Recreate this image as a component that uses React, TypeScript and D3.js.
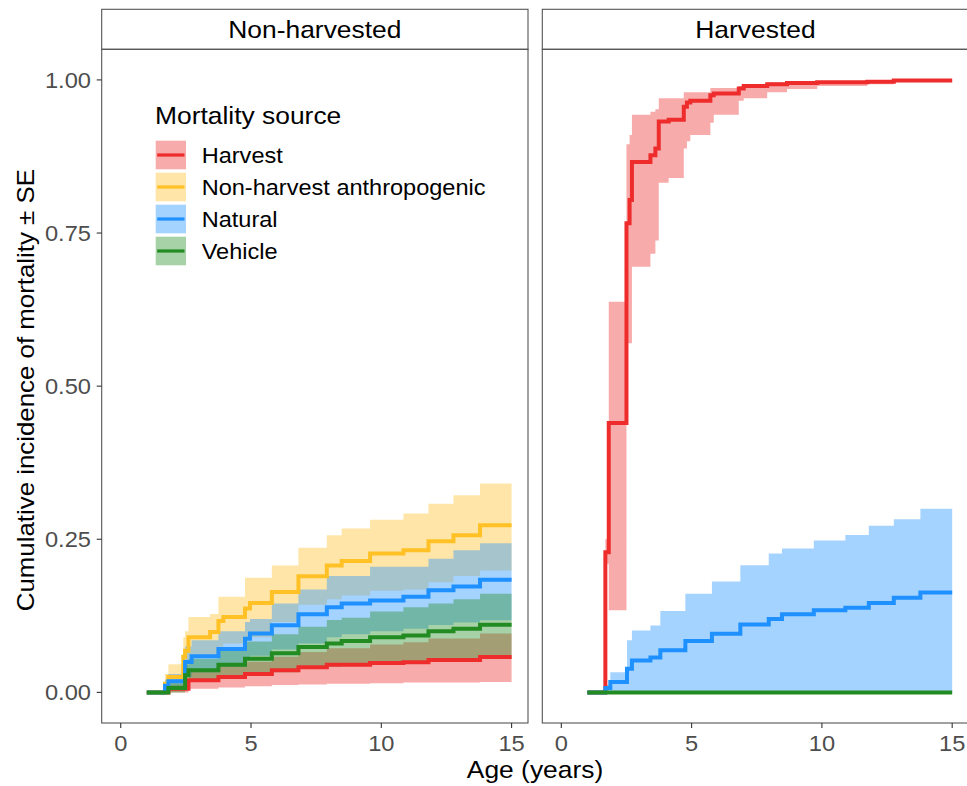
import React from 'react';
import * as d3 from 'd3';

const W = 967, H = 786;
const FONT = "'Liberation Sans', Arial, Helvetica, sans-serif";
const SX = 1.1; // reference text is a bit wider than Arial

// ---- data (age in years, cumulative incidence, lower / upper of ± SE band) ----
const START_AGE = 1;
const END_AGE = 15;

const sources = ['Harvest', 'Non-harvest anthropogenic', 'Natural', 'Vehicle'];
const colors = ['#EE2C2C', '#FFC125', '#1E90FF', '#228B22'];
const panels = ['Non-harvested', 'Harvested'];
const xTicks = [0, 5, 10, 15];
const yTicks = [0, 0.25, 0.5, 0.75, 1];

// Non-harvested
const nhHarvestT = [1.83, 2.6, 3.75, 4.77, 5.8, 6.82, 7.91, 9.57, 10.85, 11.81, 13.79];
const nhHarvestEst = [0.006, 0.0196, 0.025, 0.03, 0.036, 0.041, 0.045, 0.048, 0.049, 0.053, 0.0577];
const nhHarvestLo = [0, 0.006, 0.008, 0.01, 0.012, 0.013, 0.014, 0.015, 0.016, 0.016, 0.017];
const nhHarvestHi = [0.012, 0.035, 0.043, 0.05, 0.058, 0.066, 0.072, 0.078, 0.082, 0.088, 0.096];

const nhAnthroT = [1.7, 1.83, 2.4, 2.47, 2.6, 3.43, 3.75, 3.94, 4.77, 4.96, 5.8, 6.82, 7.91, 8.48, 9.57, 10.85, 11.81, 12.77, 13.79];
const nhAnthroEst = [0.014, 0.025, 0.058, 0.068, 0.09, 0.0985, 0.1165, 0.123, 0.137, 0.146, 0.164, 0.1895, 0.207, 0.2145, 0.2266, 0.232, 0.2467, 0.2565, 0.273];
const nhAnthroLo = [0, 0.005, 0.03, 0.04, 0.057, 0.06, 0.075, 0.08, 0.086, 0.09, 0.115, 0.143, 0.152, 0.158, 0.166, 0.168, 0.18, 0.19, 0.199];
const nhAnthroHi = [0.03, 0.046, 0.09, 0.1, 0.123, 0.128, 0.156, 0.156, 0.187, 0.187, 0.207, 0.236, 0.2565, 0.2674, 0.282, 0.292, 0.308, 0.322, 0.341];

const nhNaturalT = [1.7, 1.83, 2.47, 2.72, 3.75, 4.77, 4.96, 5.8, 6.82, 7.91, 8.48, 9.57, 10.85, 11.81, 12.77, 13.79];
const nhNaturalEst = [0.011, 0.018, 0.0495, 0.059, 0.071, 0.0877, 0.096, 0.1095, 0.1275, 0.139, 0.145, 0.15, 0.156, 0.1667, 0.173, 0.184];
const nhNaturalLo = [0.002, 0.006, 0.025, 0.033, 0.042, 0.055, 0.06, 0.07, 0.08, 0.09, 0.095, 0.1, 0.104, 0.11, 0.114, 0.1176];
const nhNaturalHi = [0.02, 0.03, 0.075, 0.085, 0.1, 0.115, 0.12, 0.145, 0.168, 0.19, 0.19, 0.205, 0.205, 0.218, 0.232, 0.2435];

const nhVehicleT = [1.83, 2.47, 2.6, 3.75, 4.77, 5.8, 6.82, 7.91, 8.48, 9.57, 10.85, 11.81, 12.77, 13.79];
const nhVehicleEst = [0.007, 0.028, 0.036, 0.045, 0.055, 0.064, 0.074, 0.08, 0.084, 0.09, 0.093, 0.0997, 0.104, 0.1106];
const nhVehicleLo = [0, 0.01, 0.017, 0.022, 0.027, 0.033, 0.041, 0.042, 0.046, 0.048, 0.05, 0.053, 0.055, 0.055];
const nhVehicleHi = [0.015, 0.045, 0.055, 0.068, 0.083, 0.095, 0.107, 0.118, 0.122, 0.132, 0.139, 0.145, 0.152, 0.161];

// Harvested
const hHarvestT = [1.69, 1.82, 2.5, 2.62, 2.71, 3.42, 3.61, 3.74, 4.12, 4.7, 4.82, 4.95, 5.72, 5.85, 6.81, 7.0, 7.9, 8.66, 9.82, 11.74, 12.76];
const hHarvestEst = [0.229, 0.44, 0.766, 0.804, 0.866, 0.877, 0.888, 0.932, 0.935, 0.956, 0.963, 0.966, 0.975, 0.978, 0.986, 0.99, 0.993, 0.995, 0.996, 0.997, 0.999];
const hHarvestLo = [0.21, 0.134, 0.57, 0.57, 0.695, 0.716, 0.738, 0.832, 0.84, 0.888, 0.9, 0.91, 0.93, 0.943, 0.966, 0.97, 0.98, 0.985, 0.99, 0.993, 0.997];
const hHarvestHi = [0.25, 0.638, 0.895, 0.91, 0.943, 0.948, 0.952, 0.97, 0.97, 0.98, 0.98, 0.98, 0.987, 0.987, 0.99, 0.993, 0.996, 0.997, 0.998, 0.999, 1.0];

const hNaturalT = [1.69, 1.88, 2.52, 2.71, 3.42, 3.8, 4.76, 5.78, 6.87, 7.96, 8.47, 9.69, 10.9, 11.8, 12.76, 13.78];
const hNaturalEst = [0.007, 0.017, 0.0387, 0.052, 0.057, 0.0686, 0.0839, 0.0959, 0.111, 0.12, 0.1275, 0.134, 0.138, 0.146, 0.1547, 0.163];
const hNaturalLo = [0, 0, 0, 0, 0, 0, 0, 0, 0, 0, 0, 0, 0, 0, 0, 0];
const hNaturalHi = [0.012, 0.033, 0.085, 0.101, 0.109, 0.133, 0.161, 0.181, 0.2075, 0.2266, 0.2348, 0.248, 0.257, 0.272, 0.2827, 0.3];

const hVehicleT: number[] = [];
const hVehicleEst: number[] = [];
const hVehicleLo: number[] = [];
const hVehicleHi: number[] = [];

type Pt = { t: number; est: number; lo: number; hi: number };
const build = (t: number[], est: number[], lo: number[], hi: number[]): Pt[] => {
  const pts: Pt[] = [{ t: START_AGE, est: 0, lo: 0, hi: 0 }];
  t.forEach((v, i) => pts.push({ t: v, est: est[i], lo: lo[i], hi: hi[i] }));
  const last = pts[pts.length - 1];
  pts.push({ ...last, t: END_AGE });
  return pts;
};

const panelSeries: { src: number; pts: Pt[] }[][] = [
  [
    { src: 0, pts: build(nhHarvestT, nhHarvestEst, nhHarvestLo, nhHarvestHi) },
    { src: 1, pts: build(nhAnthroT, nhAnthroEst, nhAnthroLo, nhAnthroHi) },
    { src: 2, pts: build(nhNaturalT, nhNaturalEst, nhNaturalLo, nhNaturalHi) },
    { src: 3, pts: build(nhVehicleT, nhVehicleEst, nhVehicleLo, nhVehicleHi) },
  ],
  [
    { src: 0, pts: build(hHarvestT, hHarvestEst, hHarvestLo, hHarvestHi) },
    { src: 2, pts: build(hNaturalT, hNaturalEst, hNaturalLo, hNaturalHi) },
    { src: 3, pts: build(hVehicleT, hVehicleEst, hVehicleLo, hVehicleHi) },
  ],
];

// ---- layout ----
const panelX = [[101.7, 528], [542.3, 968.6]];
const stripTop = 9.3, panelTop = 49.3, panelBottom = 723;

const y = d3.scaleLinear().domain([-0.05, 1.05]).range([panelBottom, panelTop]);

const T = ({ x, y, rot = 0, anchor = 'start', size, fill = '#000', children }: any) => (
  <g transform={`translate(${x},${y}) rotate(${rot}) scale(${SX},1)`}>
    <text textAnchor={anchor} fontSize={size} fill={fill} fontFamily={FONT}>{children}</text>
  </g>
);

const Panel = ({ idx }: { idx: number }) => {
  const [x0, x1] = panelX[idx];
  const x = d3.scaleLinear().domain([-0.73, 15.63]).range([x0, x1]);
  const area = d3.area<Pt>().x(d => x(d.t)).y0(d => y(d.lo)).y1(d => y(d.hi)).curve(d3.curveStepAfter);
  const line = d3.line<Pt>().x(d => x(d.t)).y(d => y(d.est)).curve(d3.curveStepAfter);
  const series = panelSeries[idx];
  return (
    <g>
      <clipPath id={`clip${idx}`}>
        <rect x={x0} y={panelTop} width={x1 - x0} height={panelBottom - panelTop} />
      </clipPath>
      <g clipPath={`url(#clip${idx})`}>
        {series.map((s, i) => (
          <path key={'a' + i} d={area(s.pts) || ''} fill={colors[s.src]} fillOpacity={0.4} />
        ))}
        {series.map((s, i) => (
          <path key={'l' + i} d={line(s.pts) || ''} fill="none" stroke={colors[s.src]} strokeWidth={4} />
        ))}
      </g>
      {/* strip */}
      <rect x={x0} y={stripTop} width={x1 - x0} height={panelTop - stripTop} fill="#fff" stroke="#555" strokeWidth={1.1} />
      <T x={(x0 + x1) / 2} y={37.5} anchor="middle" size={24}>{panels[idx]}</T>
      {/* panel border */}
      <rect x={x0} y={panelTop} width={x1 - x0} height={panelBottom - panelTop} fill="none" stroke="#555" strokeWidth={1.1} />
      {/* x axis */}
      {xTicks.map(t => (
        <g key={t}>
          <line x1={x(t)} x2={x(t)} y1={panelBottom} y2={panelBottom + 5} stroke="#333" strokeWidth={1.1} />
          <T x={x(t)} y={751} anchor="middle" size={21.5} fill="#4D4D4D">{String(t)}</T>
        </g>
      ))}
    </g>
  );
};

const Legend = () => {
  const lx = 155.7, top = 140.7, pitch = 32, kw = 30.3, kh = 28.6;
  return (
    <g>
      <T x={155} y={124} size={24}>Mortality source</T>
      {sources.map((s, i) => {
        const ky = top + i * pitch;
        return (
          <g key={s}>
            <rect x={lx} y={ky} width={kw} height={kh} fill={colors[i]} fillOpacity={0.4} />
            <line x1={lx + 1.5} x2={lx + kw - 1.5} y1={ky + kh / 2} y2={ky + kh / 2} stroke={colors[i]} strokeWidth={3.2} />
            <T x={201.7} y={ky + kh / 2 + 7.6} size={21.4}>{s}</T>
          </g>
        );
      })}
    </g>
  );
};

export default function App() {
  const x0 = panelX[0][0];
  return (
    <svg width={W} height={H} style={{ position: 'absolute', left: 0, top: 0, background: '#fff' }}>
      <rect width={W} height={H} fill="#fff" />
      <Panel idx={0} />
      <Panel idx={1} />
      {/* y axis on the first panel */}
      {yTicks.map(v => (
        <g key={v}>
          <line x1={x0 - 5} x2={x0} y1={y(v)} y2={y(v)} stroke="#333" strokeWidth={1.1} />
          <T x={91} y={y(v) + 7.7} anchor="end" size={21.5} fill="#4D4D4D">{d3.format('.2f')(v)}</T>
        </g>
      ))}
      <Legend />
      <T x={535} y={778} anchor="middle" size={24}>Age (years)</T>
      <T x={33.5} y={(panelTop + panelBottom) / 2 + 4} rot={-90} anchor="middle" size={23.5}>Cumulative incidence of mortality ± SE</T>
    </svg>
  );
}
